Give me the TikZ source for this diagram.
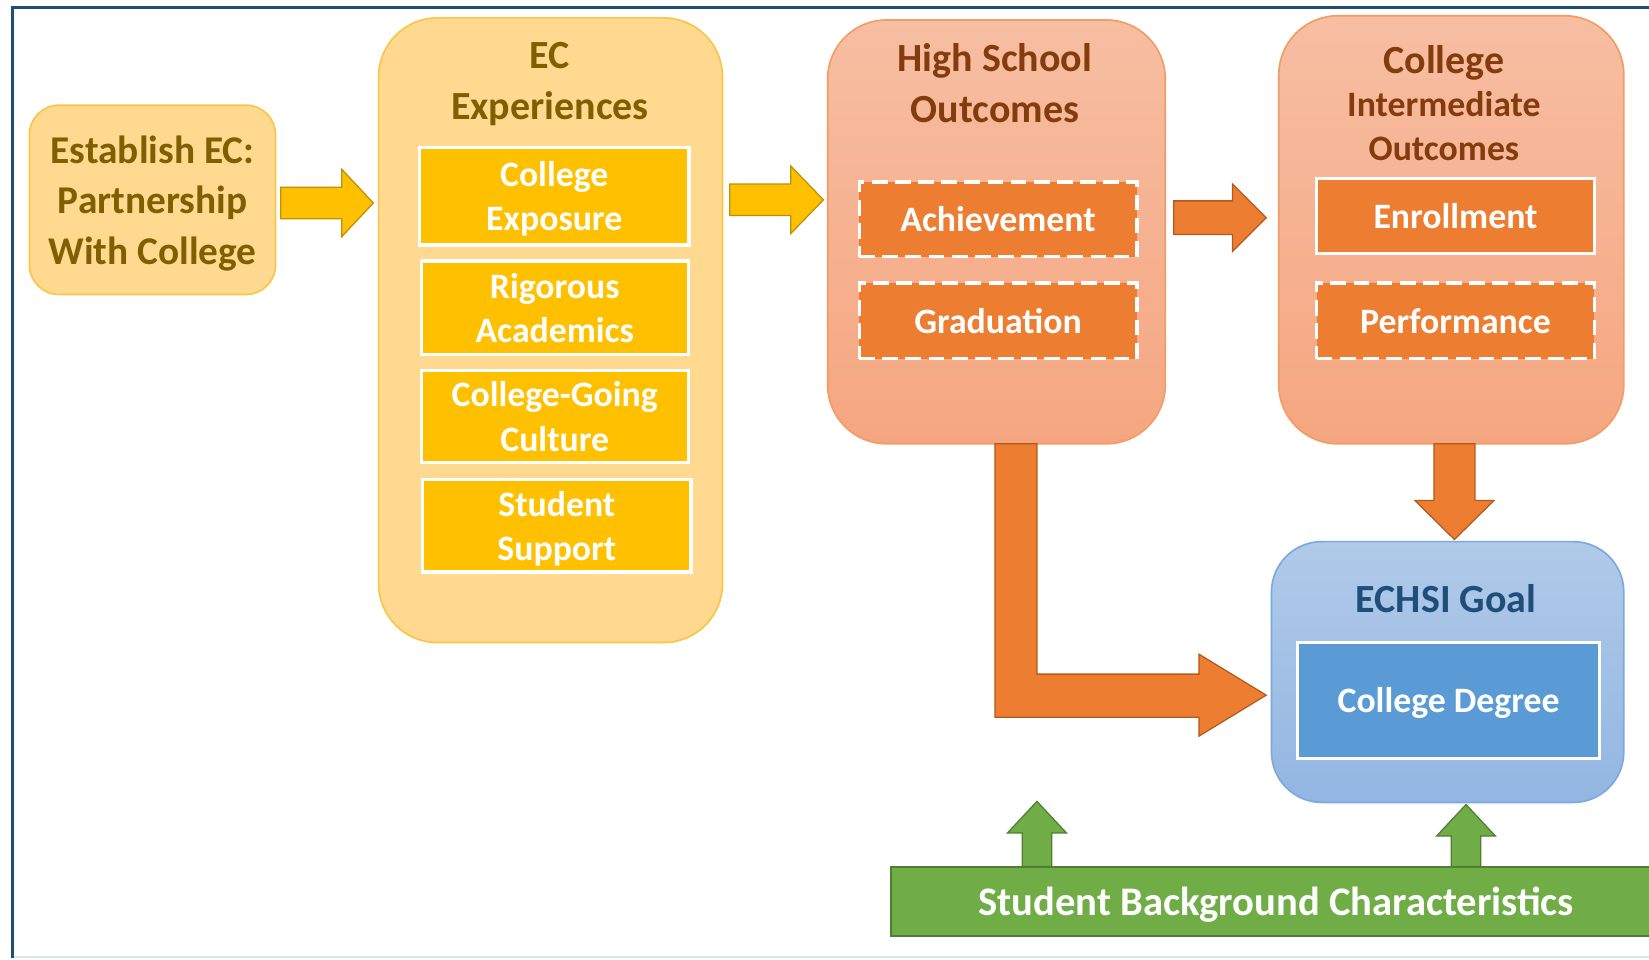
\documentclass[tikz,border=0pt]{standalone}
\usepackage{fontspec}
\setmainfont{Carlito}
\usetikzlibrary{calc}
\definecolor{frameblue}{HTML}{1F4E79}
\definecolor{framelight}{HTML}{DCE4EE}
\definecolor{goldfill}{HTML}{FED98F}
\definecolor{goldedge}{HTML}{F9C64A}
\definecolor{goldtext}{HTML}{7F6000}
\definecolor{yel}{HTML}{FFC000}
\definecolor{yeledge}{HTML}{BF9000}
\definecolor{orgtop}{HTML}{F7BEA2}
\definecolor{orgbot}{HTML}{F5A680}
\definecolor{orgedge}{HTML}{F29D66}
\definecolor{orgtext}{HTML}{843C0C}
\definecolor{org}{HTML}{ED7D31}
\definecolor{orgdark}{HTML}{B45A1E}
\definecolor{bluetop}{HTML}{B0CAE9}
\definecolor{bluebot}{HTML}{92B6E2}
\definecolor{blueedge}{HTML}{7FA9DE}
\definecolor{bluetext}{HTML}{1F4E79}
\definecolor{blu}{HTML}{5B9BD5}
\definecolor{grn}{HTML}{70AD47}
\definecolor{grnedge}{HTML}{507E32}
\newcommand\blkh[6]{\filldraw[#1] ($(#2)+(0,-#4)$) -- ($(#3)+(-#6,-#4)$) -- ($(#3)+(-#6,-#5)$) -- (#3) -- ($(#3)+(-#6,#5)$) -- ($(#3)+(-#6,#4)$) -- ($(#2)+(0,#4)$) -- cycle;}
\newcommand\blkv[6]{\filldraw[#1] ($(#2)+(-#4,0)$) -- ($(#3)+(-#4,{-(#6)})$) -- ($(#3)+(-#5,{-(#6)})$) -- (#3) -- ($(#3)+(#5,{-(#6)})$) -- ($(#3)+(#4,{-(#6)})$) -- ($(#2)+(#4,0)$) -- cycle;}
\tikzset{
  sz/.style 2 args={minimum width=#1*0.5pt, minimum height=#2*0.5pt},
  base/.style={rectangle, inner sep=0pt, outer sep=0pt},
  goldbox/.style={base, fill=goldfill, draw=goldedge, line width=0.8pt},
  orgbox/.style={base, top color=orgtop, bottom color=orgbot, draw=orgedge, line width=0.8pt},
  bluebox/.style={base, top color=bluetop, bottom color=bluebot, draw=blueedge, line width=0.8pt},
  ybox/.style={base, fill=yel, draw=white, line width=1.6pt, text=white, align=center, text depth=0pt, font=\bfseries\fontsize{17}{21}\selectfont},
  obox/.style={base, fill=org, draw=white, line width=1.6pt, text=white, align=center, text depth=0pt, font=\bfseries\fontsize{17}{21}\selectfont},
  odash/.style={obox, dash pattern=on 7.5pt off 3.5pt},
  title/.style={align=center, inner sep=0pt, text depth=0pt, font=\bfseries\fontsize{19}{24}\selectfont},
  yarrow/.style={fill=yel, draw=yeledge, line width=0.6pt},
  oarrow/.style={fill=org, draw=orgdark, line width=0.6pt},
  garrow/.style={fill=grn, draw=grnedge, line width=0.6pt},
}
\begin{document}
\begin{tikzpicture}[x=0.5pt, y=-0.5pt]
\clip (0,0) rectangle (1568,912);
\fill[white] (0,0) rectangle (1568,912);
% frame
\draw[framelight, line width=1pt] (12,910) -- (1570,910);
\draw[frameblue, line width=1.2pt] (12,911) -- (12,7) -- (1570,7);

% Establish
\node[goldbox, sz={234}{180}, rounded corners=14pt, text=goldtext, align=center, text depth=0pt,
      font=\bfseries\fontsize{18.7}{24}\selectfont] (est) at (145,190)
      {Establish EC:\\Partnership\\With College};

% EC Experiences
\node[goldbox, sz={327}{594}, rounded corners=28pt] (ec) at (523.5,314) {};
\node[title, text=goldtext] (ectitle) at (523,77) {EC\\Experiences};
\node[ybox, sz={256}{93}] (ce) at (527,186.5) {College\\Exposure};
\node[ybox, sz={254}{89}] (ra) at (527.5,292.5) {Rigorous\\Academics};
\node[ybox, sz={254}{88}] (cg) at (527.5,396) {College-Going\\Culture};
\node[ybox, sz={255}{88}] (ss) at (529.5,500) {Student\\Support};

% High School Outcomes
\node[orgbox, sz={321}{403}, rounded corners=28pt] (hs) at (947.5,220.5) {};
\node[title, text=orgtext] (hstitle) at (946,79) {High School\\Outcomes};
\node[odash, sz={264}{71}] (ach) at (949,208.5) {Achievement};
\node[odash, sz={264}{72}] (grad) at (949,305) {Graduation};

% College Intermediate Outcomes
\node[orgbox, sz={328}{407}, rounded corners=28pt] (ci) at (1380,218.5) {};
\node[title, text=orgtext] (cititle) at (1373,57) {College};
\node[title, text=orgtext, font=\bfseries\fontsize{17}{21}\selectfont] (cisub) at (1373,120) {Intermediate\\Outcomes};
\node[obox, sz={264}{71}] (enr) at (1384,205.5) {Enrollment};
\node[odash, sz={264}{72}] (perf) at (1384,305) {Performance};

% ECHSI Goal
\node[bluebox, sz={335}{248}, rounded corners=24pt] (goal) at (1376.5,639) {};
\node[title, text=bluetext] (goaltitle) at (1375,569) {ECHSI Goal};
\node[base, fill=blu, draw=white, line width=1.6pt, text=white, sz={287}{110}, text depth=0pt,
      font=\bfseries\fontsize{17}{21}\selectfont] (cd) at (1377.5,666) {College Degree};

% Student background bar
\node[base, fill=grn, draw=grnedge, line width=1pt, sz={733}{66}, text=white, text depth=0pt,
      font=\bfseries\fontsize{19.3}{24}\selectfont] (sbc) at (1213.5,857) {Student Background Characteristics};

% arrows
\coordinate (a1s) at ($(est.east)+(5,3)$);
\coordinate (a1t) at ($(a1s -| ec.west)+(-5,0)$);
\blkh{yarrow}{a1s}{a1t}{15}{32}{30}
\coordinate (a2s) at ($(ec.east |- 0,190)+(7,0)$);
\coordinate (a2t) at ($(a2s -| hs.west)+(-4,0)$);
\blkh{yarrow}{a2s}{a2t}{15}{32}{31}
\coordinate (a3s) at ($(hs.east |- 0,207)+(8,0)$);
\coordinate (a3t) at ($(a3s -| ci.west)+(-12,0)$);
\blkh{oarrow}{a3s}{a3t}{16}{32}{32}
\coordinate (a4s) at ($(ci.south)+(3,0)$);
\coordinate (a4t) at ($(a4s |- goal.north)+(0,-2)$);
\blkv{oarrow}{a4s}{a4t}{19.5}{37.5}{37}
% L arrow
\coordinate (lts) at ($(hs.south)+(18.5,0)$);
\coordinate (ltt) at ($(goal.west)+(-5,22)$);
\filldraw[oarrow] ($(lts)+(-20,0)$) -- ($(lts |- ltt)+(-20,21)$) -- ($(ltt)+(-64,21)$) -- ($(ltt)+(-64,39)$)
  -- (ltt) -- ($(ltt)+(-64,-39)$) -- ($(ltt)+(-64,-20)$) -- ($(lts |- ltt)+(20,-20)$) -- ($(lts)+(20,0)$) -- cycle;
% green arrows
\coordinate (g1s) at ($(sbc.north)+(-227.5,0)$);
\coordinate (g1t) at ($(g1s)+(0,-62)$);
\blkv{garrow}{g1s}{g1t}{14}{28}{-30}
\coordinate (g2s) at ($(sbc.north)+(180.5,0)$);
\coordinate (g2t) at ($(g2s |- goal.south)+(0,2)$);
\blkv{garrow}{g2s}{g2t}{14}{28}{-30}
\end{tikzpicture}
\end{document}
